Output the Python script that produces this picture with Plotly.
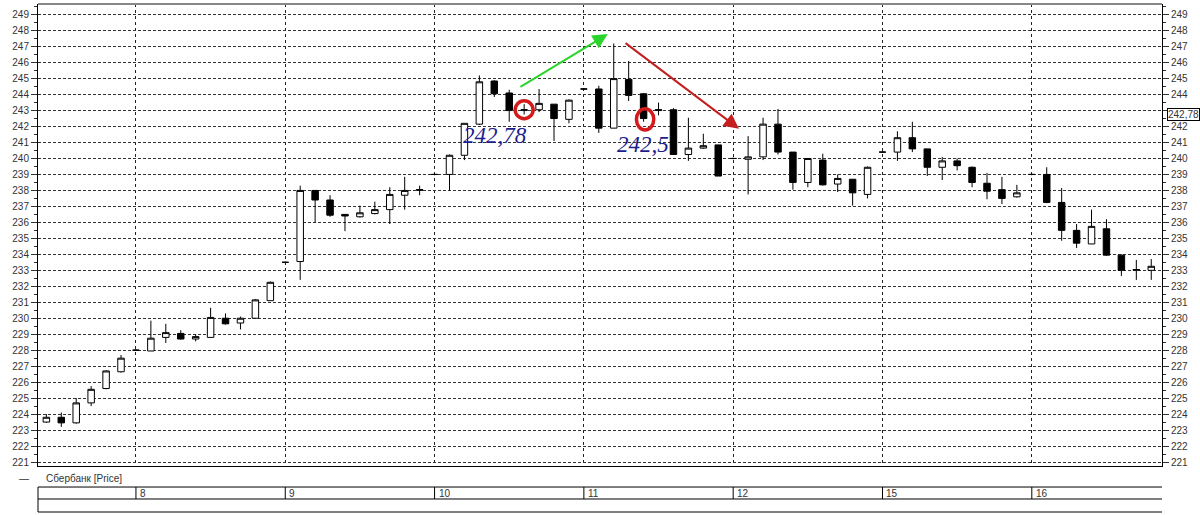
import plotly.graph_objects as go

# ---- data (hourly candles, index = bar number) ----
bar_index = list(range(75))
open_ = [223.5, 223.8, 223.45, 224.7, 225.6, 226.65,
         228.0, 227.95, 228.8, 229.05, 228.7, 228.8, 230.0, 229.7, 230.0, 231.1,
         233.5, 233.55, 238.0, 237.4, 236.5, 236.35, 236.55, 236.8, 237.7, 238.0,
         239.0, 239.0, 240.2, 242.15, 244.85, 244.1, 243.0, 243.05, 243.4, 242.45,
         244.35, 244.35, 241.9, 244.95, 244.05, 243.0, 243.05, 240.25, 240.65, 240.85,
         240.0, 239.95, 240.1, 242.15, 240.4, 238.5, 239.9, 238.4, 238.7, 237.75,
         240.4, 240.4, 241.3, 240.6, 239.45, 239.85, 239.45, 238.45, 238.05, 237.6,
         239.0, 239.0, 237.25, 235.5, 234.65, 235.6, 233.95, 233.0, 233.0]
high = [224.0, 224.1, 225.0, 225.75, 226.75, 227.7,
        228.05, 229.85, 229.65, 229.25, 229.0, 230.65, 230.3, 230.1, 231.2, 232.3,
        233.55, 238.3, 238.0, 237.7, 236.5, 237.05, 237.3, 238.2, 238.85, 238.3,
        239.05, 240.25, 242.2, 245.2, 244.9, 244.3, 243.4, 244.35, 243.4, 243.7,
        244.4, 244.55, 247.2, 246.1, 244.1, 243.5, 243.15, 242.55, 241.55, 240.85,
        240.05, 241.4, 242.55, 243.1, 240.4, 240.0, 240.3, 239.0, 238.7, 239.5,
        240.45, 241.7, 242.3, 240.6, 240.1, 240.0, 239.5, 239.1, 238.85, 238.35,
        239.05, 239.45, 238.15, 235.9, 236.8, 236.2, 234.0, 233.65, 233.7]
low = [223.45, 223.2, 223.4, 224.5, 225.55, 226.6,
       227.95, 227.95, 228.45, 228.65, 228.55, 228.8, 229.6, 229.3, 230.0, 231.1,
       233.45, 232.4, 236.0, 236.35, 235.45, 236.3, 236.5, 235.9, 236.8, 237.7,
       238.95, 238.0, 239.9, 242.1, 243.85, 242.3, 242.75, 242.9, 241.1, 242.2,
       244.3, 241.6, 241.9, 243.6, 242.3, 242.7, 240.25, 239.85, 240.6, 238.9,
       239.95, 237.75, 239.9, 240.25, 238.05, 238.2, 238.3, 237.9, 237.05, 237.5,
       240.35, 239.85, 240.4, 238.9, 238.65, 239.25, 238.2, 237.45, 237.15, 237.55,
       238.95, 237.2, 234.85, 234.4, 234.65, 233.9, 232.65, 232.4, 232.4]
close = [223.8, 223.45, 224.7, 225.55, 226.7, 227.5,
         228.0, 228.75, 229.1, 228.7, 228.85, 230.05, 229.65, 230.0, 231.15, 232.25,
         233.5, 238.0, 237.4, 236.45, 236.4, 236.6, 236.8, 237.75, 238.0, 238.05,
         239.0, 240.2, 242.2, 244.8, 244.05, 243.0, 243.05, 243.45, 242.5, 243.65,
         244.35, 241.9, 245.0, 243.95, 242.5, 243.05, 240.25, 240.65, 240.8, 238.9,
         240.0, 240.1, 242.15, 240.4, 238.5, 240.0, 238.35, 238.75, 237.85, 239.45,
         240.4, 241.3, 240.6, 239.45, 239.85, 239.55, 238.5, 237.95, 237.5, 237.85,
         239.0, 237.25, 235.5, 234.7, 235.75, 233.95, 233.0, 233.05, 233.25]

day_start_index = [6, 16, 26, 36, 46, 56, 66]
day_labels = ["8", "9", "10", "11", "12", "15", "16"]
y_tick_values = list(range(221, 250))
marker_level = 242.78
marker_label = "242,78"
note_labels = ["242,78", "242,5"]
series_name = "Сбербанк [Price]"

FONT = "Liberation Sans"
TXT = "#333333"

fig = go.Figure()
fig.add_trace(go.Candlestick(
    x=bar_index, open=open_, high=high, low=low, close=close,
    increasing=dict(line=dict(color="black", width=1), fillcolor="white"),
    decreasing=dict(line=dict(color="black", width=1), fillcolor="black"),
    whiskerwidth=0, showlegend=False, hoverinfo="skip",
))
# invisible companion trace so the right-hand axis is drawn
fig.add_trace(go.Scatter(x=bar_index[:1], y=close[:1], yaxis="y2", mode="markers",
                         marker=dict(opacity=0), showlegend=False, hoverinfo="skip"))

yr = [220.75, 249.67]
xr = [-0.56, 74.72]
yaxis_common = dict(
    range=yr, tickmode="array", tickvals=y_tick_values,
    ticks="outside", ticklen=6, tickcolor="#333", tickwidth=1,
    minor=dict(dtick=0.5, ticks="outside", ticklen=3, tickcolor="#333", showgrid=False),
    tickfont=dict(family=FONT, size=10, color=TXT),
    showline=True, linecolor="black", linewidth=1, zeroline=False, fixedrange=True,
)
left_text = [str(v) for v in y_tick_values]
# on the right axis the level box hides the label next to it
right_text = ["" if abs(v - marker_level) < 0.5 else str(v) for v in y_tick_values]
fig.update_layout(
    width=1200, height=515,
    margin=dict(l=38, r=38, t=4, b=49),
    paper_bgcolor="white", plot_bgcolor="white",
    boxgap=0.38,
    xaxis=dict(range=xr, tickmode="array", tickvals=day_start_index, showticklabels=False,
               ticks="", showgrid=True, gridcolor="#222", gridwidth=1, griddash="dot",
               showline=True, linecolor="black", mirror=False, zeroline=False,
               rangeslider=dict(visible=False)),
    yaxis=dict(**yaxis_common, ticktext=left_text, side="left", showgrid=True,
               gridcolor="#333", gridwidth=1, griddash="3px,2px"),
    yaxis2=dict(**yaxis_common, ticktext=right_text, side="right", overlaying="y",
                showgrid=False),
)

shapes = []
# top border (grey)
shapes.append(dict(type="line", xref="paper", yref="paper", x0=0, x1=1, y0=1, y1=1,
                   line=dict(color="#888", width=2)))
# date band
band_top, band_mid, band_bot = -0.0455, -0.0714, -0.0996
for yy in (band_top, band_mid, band_bot):
    shapes.append(dict(type="line", xref="paper", yref="paper", x0=0, x1=1, y0=yy, y1=yy,
                       line=dict(color="black", width=1)))
shapes.append(dict(type="line", xref="paper", yref="paper", x0=0, x1=0, y0=band_top, y1=band_bot,
                   line=dict(color="black", width=1)))
for d in day_start_index:
    shapes.append(dict(type="line", xref="x", yref="paper", x0=d, x1=d, y0=band_top, y1=band_mid,
                       line=dict(color="black", width=1)))
# red circles around the marked candles
shapes.append(dict(type="circle", xref="x", yref="y",
                   x0=bar_index[32] - 0.6, x1=bar_index[32] + 0.6,
                   y0=close[32] - 0.56, y1=close[32] + 0.56,
                   line=dict(color="#d41a1a", width=3.5)))
shapes.append(dict(type="circle", xref="x", yref="y",
                   x0=bar_index[40] + 0.1 - 0.58, x1=bar_index[40] + 0.1 + 0.58,
                   y0=close[40] - 0.05 - 0.66, y1=close[40] - 0.05 + 0.66,
                   line=dict(color="#d41a1a", width=3.5)))
fig.update_layout(shapes=shapes)

ann = []
for d, lab in zip(day_start_index, day_labels):
    ann.append(dict(x=d, y=(band_top + band_mid) / 2, xref="x", yref="paper", text=lab,
                    showarrow=False, xanchor="left", yanchor="middle", xshift=2,
                    font=dict(family=FONT, size=10, color=TXT)))
ann.append(dict(x=-0.006, y=-0.026, xref="paper", yref="paper", text="—",
                showarrow=False, xanchor="right", yanchor="middle",
                font=dict(family=FONT, size=10, color=TXT)))
ann.append(dict(x=0.005, y=-0.026, xref="paper", yref="paper", text=series_name,
                showarrow=False, xanchor="left", yanchor="middle",
                font=dict(family=FONT, size=10, color=TXT)))
# boxed level label on the right axis
ann.append(dict(x=1, y=marker_level, xref="paper", yref="y", text=marker_label,
                showarrow=False, xanchor="left", yanchor="middle", xshift=5,
                bordercolor="black", borderwidth=1, borderpad=0, bgcolor="white",
                font=dict(family=FONT, size=10, color=TXT)))
# handwritten-style notes
ann.append(dict(x=30.05, y=241.42, xref="x", yref="y", text="<i>" + note_labels[0] + "</i>",
                showarrow=False, font=dict(family="Liberation Serif", size=23, color="#1c1c8c")))
ann.append(dict(x=39.96, y=240.86, xref="x", yref="y", text="<i>" + note_labels[1] + "</i>",
                showarrow=False, font=dict(family="Liberation Serif", size=23, color="#1c1c8c")))
# arrows
ann.append(dict(x=37.6, y=247.79, ax=31.65, ay=244.42, xref="x", yref="y", axref="x", ayref="y",
                text="", showarrow=True, arrowhead=2, arrowsize=1.5, arrowwidth=2,
                arrowcolor="#2bd42b"))
ann.append(dict(x=46.39, y=241.86, ax=38.69, ay=247.29, xref="x", yref="y", axref="x", ayref="y",
                text="", showarrow=True, arrowhead=2, arrowsize=1.5, arrowwidth=2,
                arrowcolor="#c41e1e"))
fig.update_layout(annotations=ann)

fig.write_html("out.html", config={"displayModeBar": False},
               post_script="document.body.style.margin='0';document.body.style.overflow='hidden';")
